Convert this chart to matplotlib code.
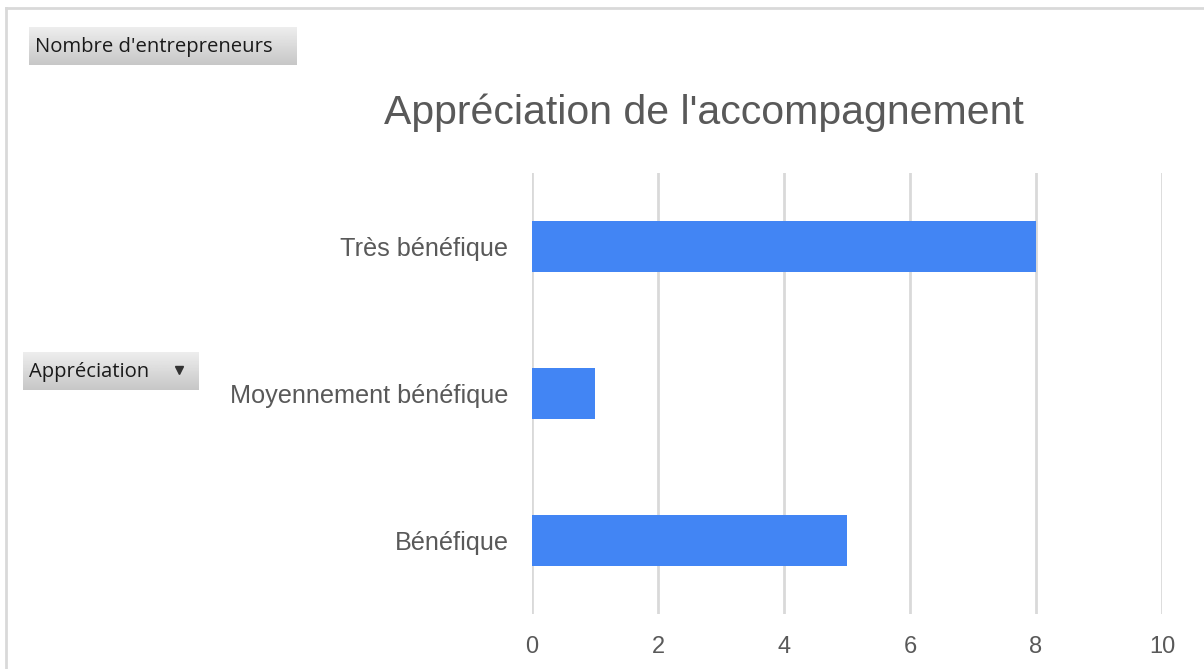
import numpy as np
import matplotlib.pyplot as plt
from matplotlib.lines import Line2D

plt.rcParams['font.family'] = ['Liberation Sans', 'DejaVu Sans']

categories = ['Bénéfique', 'Moyennement bénéfique', 'Très bénéfique']
counts = [5, 1, 8]
xticks = [0, 2, 4, 6, 8, 10]

fig = plt.figure(figsize=(12.04, 6.69), dpi=100)
ax = fig.add_axes([532/1204, 1-614/669, 630/1204, 441/669])

pos = np.arange(len(categories))
ax.barh(pos, counts, height=0.35, color='#4285F4', zorder=3)
ax.set_xlim(0, 10)
ax.set_ylim(-0.5, 2.5)
ax.set_xticks(xticks)
ax.set_yticks(pos)
ax.set_yticklabels(categories)
ax.grid(axis='x', color='#d9d9d9', linewidth=2, zorder=0)
for s in ax.spines.values():
    s.set_visible(False)
ax.tick_params(axis='both', length=0, labelcolor='#595959')
ax.tick_params(axis='x', pad=16, labelsize=17)
ax.tick_params(axis='y', pad=17, labelsize=18.2)

fig.text(704/1204, 1-113/669, "Appréciation de l'accompagnement", fontsize=29.5,
         color='#595959', ha='center', va='center')

# outer frame
fig.add_artist(Line2D([6/1204, 1], [1-8/669, 1-8/669], color='#d9d9d9', lw=2))
fig.add_artist(Line2D([6/1204, 6/1204], [0, 1-8/669], color='#d9d9d9', lw=2))

# pivot field buttons
grad = np.linspace(0.93, 0.78, 50).reshape(-1, 1)

def button(x0, y0, x1, y1, label, arrow=False):
    b = fig.add_axes([x0/1204, 1-y1/669, (x1-x0)/1204, (y1-y0)/669])
    b.imshow(grad, cmap='gray', vmin=0, vmax=1, aspect='auto', extent=[0, 1, 0, 1])
    b.set_xlim(0, 1)
    b.set_ylim(0, 1)
    b.axis('off')
    b.text(6/(x1-x0), 0.47, label, fontsize=14.6, color='#1a1a1a', va='center', ha='left',
           family=['Open Sans', 'DejaVu Sans'])
    if arrow:
        b.plot([1-20/(x1-x0)], [0.52], marker='v', color='#333333', markersize=6)

button(29, 27, 297, 65, "Nombre d'entrepreneurs")
button(23, 352, 199, 390, "Appréciation", arrow=True)

fig.savefig('out.png', dpi=100)
